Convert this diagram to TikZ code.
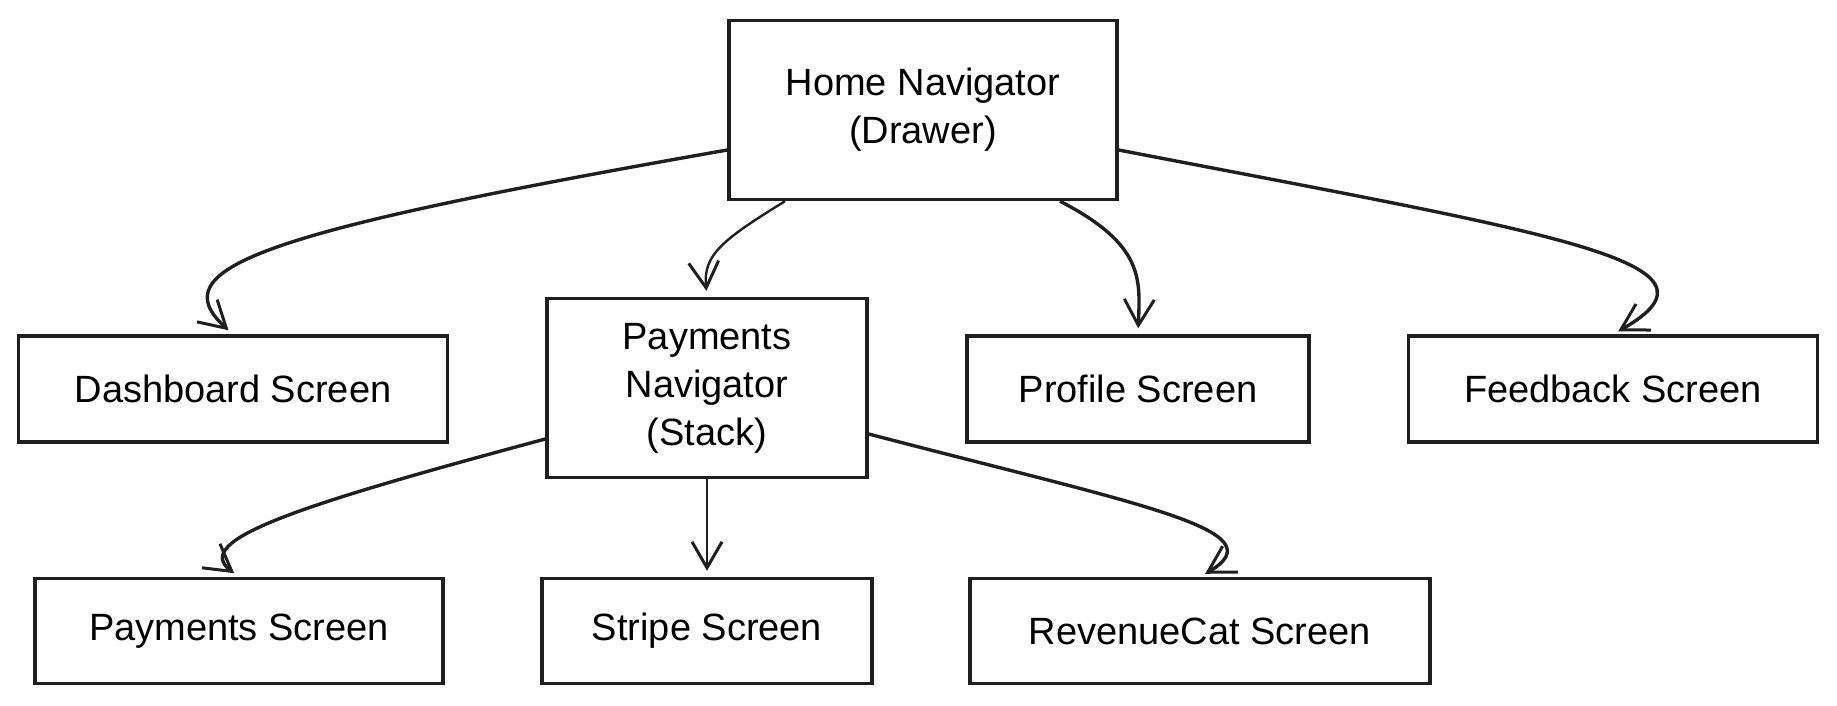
\documentclass[tikz,border=0pt]{standalone}
\usepackage{fontspec}
\setmainfont{Liberation Sans}
\usetikzlibrary{arrows.meta}

\begin{document}
\begin{tikzpicture}[x=1pt, y=-1pt,
    screen/.style={draw=black!88, line width=3.4pt, align=center,
      font=\fontsize{38}{48}\selectfont, inner sep=0pt},
    link/.style={draw=black!88, line width=3.4pt,
      -{Straight Barb[length=26pt, width=30pt, line width=3pt]}, shorten >=6pt},
    thinlink/.style={link, line width=2.4pt}]
    \useasboundingbox (0,0) rectangle (1837,705);

    % Top level navigator
    \node[screen, minimum width=388pt, minimum height=179pt] (home) at (923,110) {Home Navigator\\(Drawer)};

    % Second row
    \node[screen, minimum width=429pt, minimum height=106pt] (dash) at (233,389) {Dashboard Screen};
    \node[screen, minimum width=320pt, minimum height=179pt] (paynav) at (707,388) {Payments\\Navigator\\(Stack)};
    \node[screen, minimum width=342pt, minimum height=106pt] (profile) at (1138,389) {Profile Screen};
    \node[screen, minimum width=409pt, minimum height=106pt] (feedback) at (1613,389) {Feedback Screen};

    % Third row
    \node[screen, minimum width=408pt, minimum height=105pt] (pay) at (239,631) {Payments Screen};
    \node[screen, minimum width=330pt, minimum height=105pt] (stripe) at (707,631) {Stripe Screen};
    \node[screen, minimum width=460pt, minimum height=105pt] (rc) at (1200,631) {RevenueCat Screen};

    % Drawer links
    \draw[link] ([yshift=-40pt]home.west) .. controls (260,232) and (160,268) .. (dash.north);
    \draw[thinlink] ([xshift=-138pt]home.south) .. controls (722,240) and (703,255) .. (paynav.north);
    \draw[link] ([xshift=137pt]home.south) .. controls (1145,245) and (1140,280) .. (profile.north);
    \draw[link] ([yshift=-40pt]home.east) .. controls (1560,235) and (1740,262) .. (feedback.north);

    % Stack links
    \draw[link] ([yshift=-51pt]paynav.west) .. controls (300,505) and (190,540) .. (pay.north);
    \draw[thinlink] (paynav.south) -- (stripe.north);
    \draw[link] ([yshift=-46pt]paynav.east) .. controls (1140,505) and (1280,530) .. (rc.north);
\end{tikzpicture}
\end{document}
